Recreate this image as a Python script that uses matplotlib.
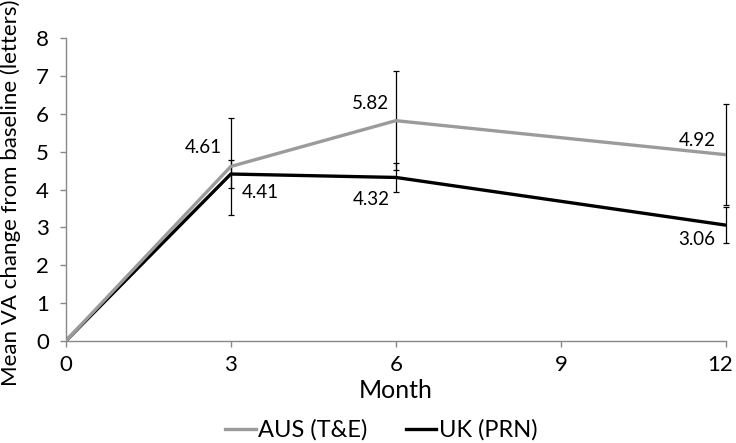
import numpy as np
import matplotlib.pyplot as plt
from matplotlib.transforms import ScaledTranslation

plt.rcParams['font.family'] = ['Lato', 'DejaVu Sans']

months = [0, 3, 6, 12]
aus_mean = [0, 4.61, 5.82, 4.92]
uk_mean = [0, 4.41, 4.32, 3.06]
aus_err = [0, 1.29, 1.31, 1.34]
uk_err = [0, 0.36, 0.39, 0.48]
aus_label = "AUS (T&E)"
uk_label = "UK (PRN)"

fig = plt.figure(figsize=(7.36, 4.43), dpi=100)
ax = fig.add_axes([0.0893, 0.2302, 0.8971, 0.6838])

gray = "#9b9b9b"

ax.plot(months, uk_mean, color="black", linewidth=2.4, label=uk_label, zorder=3)
ax.plot(months, aus_mean, color=gray, linewidth=2.4, label=aus_label, zorder=4)

# error bars (skip month 0)
for means, errs in [(aus_mean, aus_err), (uk_mean, uk_err)]:
    eb = ax.errorbar(months[1:], means[1:], yerr=errs[1:], fmt="none",
                     ecolor="black", elinewidth=0.9, capsize=2.5, capthick=0.9,
                     zorder=2)
    for artist in eb.lines[1] + eb.lines[2]:
        artist.set_clip_on(False)

# value labels
aus_offsets = [None, (-20, 14), (-18, 12), (-21, 10)]
uk_offsets = [None, (21, -13), (-18, -16), (-21, -10)]
for i in range(1, len(months)):
    ax.annotate(f"{aus_mean[i]:.2f}", (months[i], aus_mean[i]),
                xytext=aus_offsets[i], textcoords="offset points",
                ha="center", va="center", fontsize=13.5)
    ax.annotate(f"{uk_mean[i]:.2f}", (months[i], uk_mean[i]),
                xytext=uk_offsets[i], textcoords="offset points",
                ha="center", va="center", fontsize=13.5)

ax.set_xlim(0, 12)
ax.set_ylim(0, 8)
ax.set_xticks([0, 3, 6, 9, 12])
ax.set_yticks(range(0, 9))
ax.tick_params(axis="both", labelsize=16, color="#888888", length=4, width=1)
ax.tick_params(axis="x", pad=6)
ax.tick_params(axis="y", pad=8)

# nudge the last x tick label so it stays inside the figure
last = ax.get_xticklabels()[-1]
last.set_transform(last.get_transform() + ScaledTranslation(-4 / 72, 0, fig.dpi_scale_trans))

for side in ["top", "right"]:
    ax.spines[side].set_visible(False)
for side in ["left", "bottom"]:
    ax.spines[side].set_color("#888888")
    ax.spines[side].set_linewidth(1)

ax.set_xlabel("Month", fontsize=18, labelpad=3)
ax.set_ylabel("Mean VA change from baseline (letters)", fontsize=16)
ax.yaxis.set_label_coords(-0.068, 0.49)

handles, labels = ax.get_legend_handles_labels()
fig.legend(handles[::-1], labels[::-1], loc="center", bbox_to_anchor=(0.518, 0.029),
           ncol=2, frameon=False, fontsize=17, handlelength=1.3,
           handletextpad=0.1, columnspacing=1.6)

fig.savefig("out.png", dpi=100)
